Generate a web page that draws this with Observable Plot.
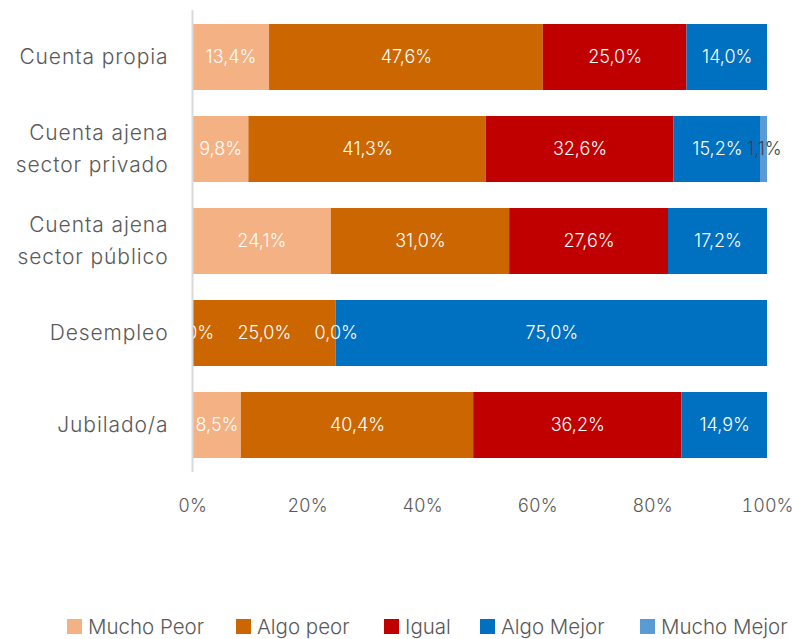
<!DOCTYPE html>
<html>
<head>
<meta charset="utf-8">
<script src="https://cdn.jsdelivr.net/npm/d3@7"></script>
<script src="https://cdn.jsdelivr.net/npm/@observablehq/plot@0.6"></script>
<style>
  body { margin: 0; background: #fff; font-family: Inter, "Open Sans", sans-serif; }
  #legend { position: relative; height: 30px; margin-top: 84px; font-size: 20.5px; font-weight: 300; color: #595959; white-space: nowrap; }
  #legend .item { position: absolute; top: 0; display: flex; align-items: center; }
  #legend .sw { width: 15px; height: 15px; margin-right: 6px; }
</style>
</head>
<body>
<div id="chart"></div>
<div id="legend"></div>
<script>
const categorias = ["Cuenta propia", "Cuenta ajena sector privado", "Cuenta ajena sector público", "Desempleo", "Jubilado/a"];
const etiquetas = ["Cuenta propia", "Cuenta ajena\nsector privado", "Cuenta ajena\nsector público", "Desempleo", "Jubilado/a"];
const series = ["Mucho Peor", "Algo peor", "Igual", "Algo Mejor", "Mucho Mejor"];
const muchoPeor = [13.4, 9.8, 24.1, 0.0, 8.5];
const algoPeor = [47.6, 41.3, 31.0, 25.0, 40.4];
const igual = [25.0, 32.6, 27.6, 0.0, 36.2];
const algoMejor = [14.0, 15.2, 17.2, 75.0, 14.9];
const muchoMejor = [null, 1.1, null, null, null];
const colores = ["#F4B183", "#CC6600", "#C00000", "#0070C0", "#5B9BD5"];
const ticksX = [0, 0.2, 0.4, 0.6, 0.8, 1];
const ticksTexto = ["0%", "20%", "40%", "60%", "80%", "100%"];
const legendX = [67, 236, 384, 480, 640];

const valores = [muchoPeor, algoPeor, igual, algoMejor, muchoMejor];
const data = [];
series.forEach((s, i) => {
  categorias.forEach((c, j) => {
    const v = valores[i][j];
    if (v !== null) data.push({cat: c, serie: s, value: v});
  });
});
const fmt = v => v.toFixed(1).replace(".", ",") + "%";

const stackOpts = (extra) => Plot.stackX({x: "value", y: "cat", z: "serie", order: series, offset: "normalize", ...extra});

const chart = Plot.plot({
  width: 792,
  height: 530,
  marginLeft: 192,
  marginRight: 25,
  marginTop: 10,
  marginBottom: 58,
  style: {fontFamily: "Inter, 'Open Sans', sans-serif", fontWeight: 300, color: "#595959", background: "#fff"},
  x: {domain: [0, 1], label: null},
  y: {domain: categorias, paddingInner: 0.28, paddingOuter: 0.15, label: null},
  color: {domain: series, range: colores},
  marks: [
    Plot.barX(data, stackOpts({fill: "serie"})),
    Plot.textX(data, stackOpts({text: d => d.serie === "Mucho Peor" ? fmt(d.value) : "", fill: "white", fontSize: 18, clip: true})),
    Plot.textX(data, stackOpts({text: d => d.serie !== "Mucho Peor" ? fmt(d.value) : "", fill: d => d.serie === "Mucho Mejor" ? "#404040" : "white", fontSize: 18})),
    Plot.ruleX([0], {stroke: "#d9d9d9", strokeWidth: 2}),
    Plot.axisX({ticks: ticksX, tickFormat: d => ticksTexto[ticksX.indexOf(d)], tickSize: 0, tickPadding: 27, fontSize: 18, label: null}),
    Plot.axisY({tickSize: 0, tickPadding: 24, fontSize: 21, lineHeight: 1.55, dy: -4, label: null, tickFormat: d => etiquetas[categorias.indexOf(d)]})
  ]
});
chart.querySelectorAll("g[aria-label='y-axis tick label']").forEach(e => e.setAttribute("letter-spacing", "0.9"));
document.getElementById("chart").appendChild(chart);

const legend = document.getElementById("legend");
series.forEach((s, i) => {
  const it = document.createElement("div");
  it.className = "item";
  it.style.left = legendX[i] + "px";
  const sw = document.createElement("div");
  sw.className = "sw";
  sw.style.background = colores[i];
  const t = document.createElement("span");
  t.textContent = s;
  it.appendChild(sw); it.appendChild(t);
  legend.appendChild(it);
});
</script>
</body>
</html>
